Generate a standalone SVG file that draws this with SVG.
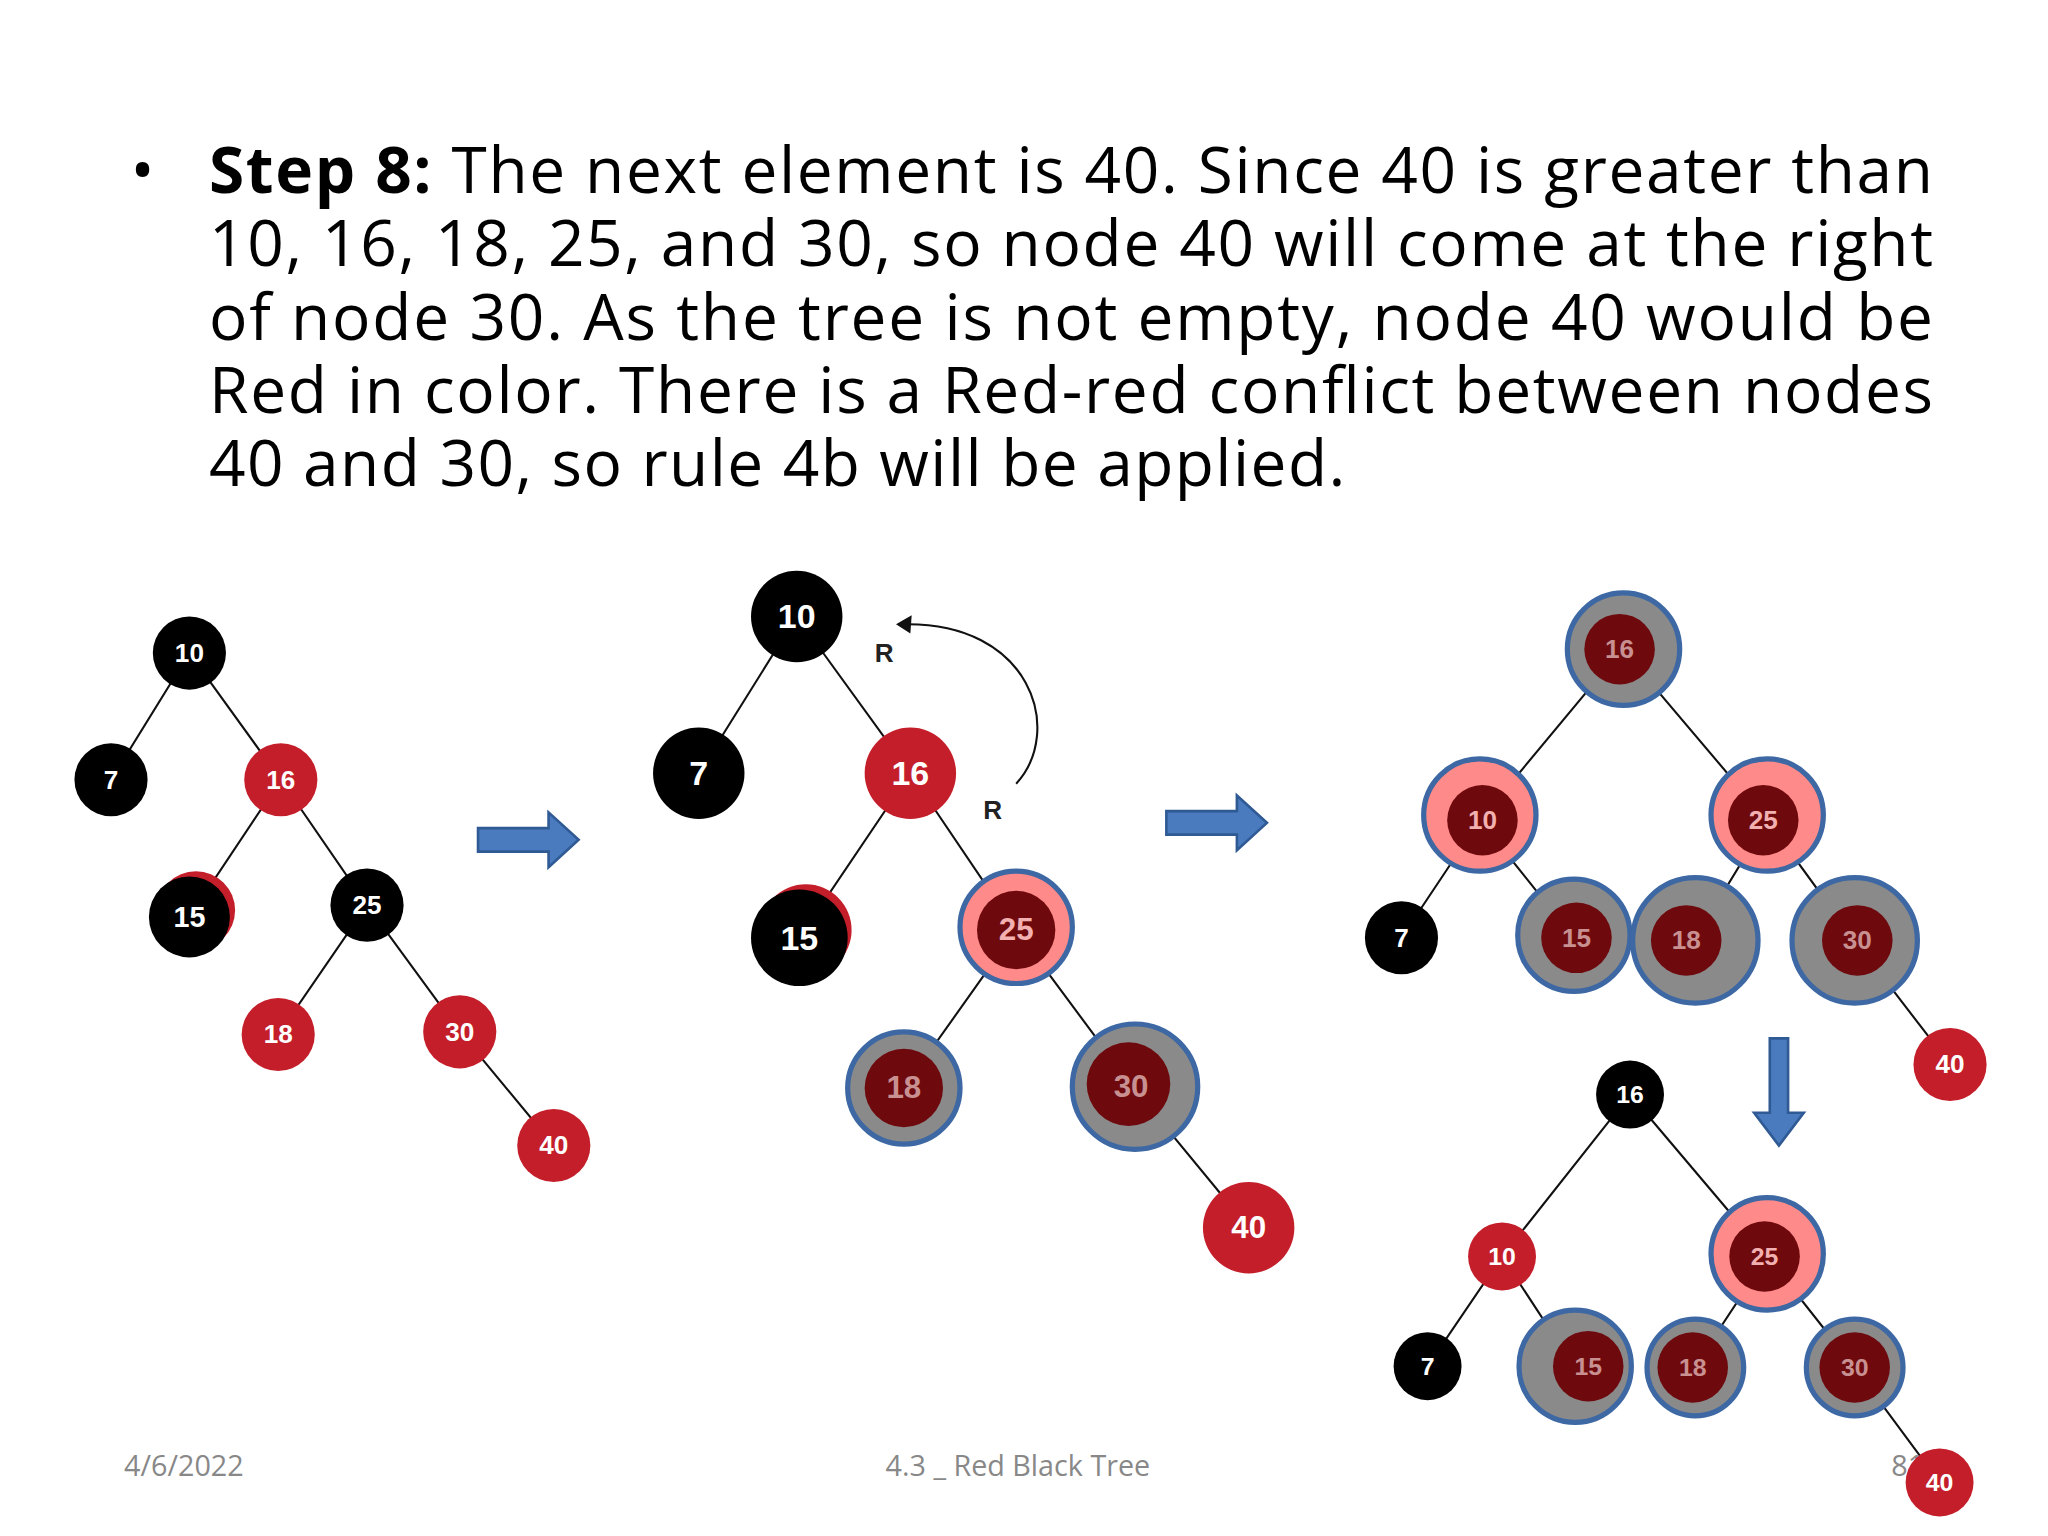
<svg xmlns="http://www.w3.org/2000/svg" width="2048" height="1536" viewBox="0 0 2048 1536">
<style>
.t{font-family:"Open Sans","Liberation Sans",sans-serif;font-size:49px;fill:#000}
.n{font-family:"Liberation Sans",Arial,sans-serif;font-weight:bold;fill:#fff;text-anchor:middle;dominant-baseline:central}
.f{font-family:"Open Sans","Liberation Sans",sans-serif;font-size:22px;fill:#888}
.e{stroke:#111;stroke-width:1.6;fill:none}
.b{fill:#000}.r{fill:#c41e2a}.dr{fill:#6e0a0e}
.g{fill:#8a8a8a;stroke:#3d68a3;stroke-width:4}
.p{fill:#ff8a8a;stroke:#3d68a3;stroke-width:4}
.ar{fill:#4a7bbf;stroke:#2f5a94;stroke-width:2}
</style>
<rect width="2048" height="1536" fill="#fff"/>
<g transform="scale(1.30612)">
<g id="text">
<text class="t" x="100" y="148">•</text>
<text class="t" x="160" y="148" textLength="1320" lengthAdjust="spacing"><tspan font-weight="bold">Step 8:</tspan> The next element is 40. Since 40 is greater than</text>
<text class="t" x="160" y="204" textLength="1320" lengthAdjust="spacing">10, 16, 18, 25, and 30, so node 40 will come at the right</text>
<text class="t" x="160" y="260" textLength="1320" lengthAdjust="spacing">of node 30. As the tree is not empty, node 40 would be</text>
<text class="t" x="160" y="316" textLength="1320" lengthAdjust="spacing">Red in color. There is a Red-red conflict between nodes</text>
<text class="t" x="160" y="372" textLength="870" lengthAdjust="spacing">40 and 30, so rule 4b will be applied.</text>
</g>
<g id="connectors">
<path class="e" d="M145 500L85 597M145 500L215 597M215 597L145 702M215 597L281 693M281 693L213 792M281 693L352 790M352 790L424 877"/>
<path class="e" d="M610 472L535 592M610 472L697 592M697 592L612 718M697 592L778 712M778 712L692 833M778 712L867 832M867 832L956 940"/>
<path class="e" d="M1242 497L1133 628M1242 497L1353 628M1133 628L1073 718M1133 628L1205 718M1353 628L1297 720M1353 628L1420 720M1420 720L1493 815"/>
<path class="e" d="M1248 838L1150 962M1248 838L1353 962M1150 962L1093 1046M1150 962L1205 1046M1353 962L1297 1047M1353 962L1420 1047M1420 1047L1485 1135"/>
<path class="e" d="M778 600C815 560 790 475 690 478"/>
<path d="M686 478L698 471L697 485Z" fill="#111"/>
<path class="ar" d="M366 634H420V622L443 643L420 664V652H366Z"/>
<path class="ar" d="M893 621H947V609L970 630L947 651V639H893Z"/>
<path class="ar" d="M1355 795H1369V852H1381L1362 877L1343 852H1355Z"/>
</g>
<g id="labels">
<text class="n" x="677" y="500" style="fill:#222" font-size="20">R</text>
<text class="n" x="760" y="620" style="fill:#222" font-size="20">R</text>
</g>
<g id="tree1">
<circle class="b" cx="145" cy="500" r="28"/><text class="n" x="145" y="500" font-size="20">10</text>
<circle class="b" cx="85" cy="597" r="28"/><text class="n" x="85" y="597" font-size="20">7</text>
<circle class="r" cx="215" cy="597" r="28"/><text class="n" x="215" y="597" font-size="20">16</text>
<circle class="r" cx="150" cy="697" r="30"/><circle class="b" cx="145" cy="702" r="31"/><text class="n" x="145" y="702" font-size="22">15</text>
<circle class="b" cx="281" cy="693" r="28"/><text class="n" x="281" y="693" font-size="20">25</text>
<circle class="r" cx="213" cy="792" r="28"/><text class="n" x="213" y="792" font-size="20">18</text>
<circle class="r" cx="352" cy="790" r="28"/><text class="n" x="352" y="790" font-size="20">30</text>
<circle class="r" cx="424" cy="877" r="28"/><text class="n" x="424" y="877" font-size="20">40</text>
</g>
<g id="tree2">
<circle class="b" cx="610" cy="472" r="35"/><text class="n" x="610" y="472" font-size="26">10</text>
<circle class="b" cx="535" cy="592" r="35"/><text class="n" x="535" y="592" font-size="26">7</text>
<circle class="r" cx="697" cy="592" r="35"/><text class="n" x="697" y="592" font-size="26">16</text>
<circle class="r" cx="617" cy="712" r="35"/><circle class="b" cx="612" cy="718" r="37"/><text class="n" x="612" y="718" font-size="26">15</text>
<circle class="p" cx="778" cy="710" r="43"/><circle class="dr" cx="778" cy="712" r="30"/><text class="n" x="778" y="712" font-size="24" style="fill:#f2b0b0">25</text>
<circle class="g" cx="692" cy="833" r="43"/><circle class="dr" cx="692" cy="833" r="30"/><text class="n" x="692" y="833" font-size="24" style="fill:#c89090">18</text>
<circle class="g" cx="869" cy="832" r="48"/><circle class="dr" cx="864" cy="830" r="32"/><text class="n" x="866" y="832" font-size="24" style="fill:#c89090">30</text>
<circle class="r" cx="956" cy="940" r="35"/><text class="n" x="956" y="940" font-size="24">40</text>
</g>
<g id="tree3">
<circle class="g" cx="1243" cy="497" r="43"/><circle class="dr" cx="1240" cy="497" r="27"/><text class="n" x="1240" y="497" font-size="20" style="fill:#c89090">16</text>
<circle class="p" cx="1133" cy="624" r="43"/><circle class="dr" cx="1135" cy="628" r="27"/><text class="n" x="1135" y="628" font-size="20" style="fill:#f2b0b0">10</text>
<circle class="p" cx="1353" cy="624" r="43"/><circle class="dr" cx="1350" cy="628" r="27"/><text class="n" x="1350" y="628" font-size="20" style="fill:#f2b0b0">25</text>
<circle class="b" cx="1073" cy="718" r="28"/><text class="n" x="1073" y="718" font-size="20">7</text>
<circle class="g" cx="1205" cy="716" r="43"/><circle class="dr" cx="1207" cy="718" r="27"/><text class="n" x="1207" y="718" font-size="20" style="fill:#c89090">15</text>
<circle class="g" cx="1298" cy="720" r="48"/><circle class="dr" cx="1291" cy="720" r="27"/><text class="n" x="1291" y="720" font-size="20" style="fill:#c89090">18</text>
<circle class="g" cx="1420" cy="720" r="48"/><circle class="dr" cx="1422" cy="720" r="27"/><text class="n" x="1422" y="720" font-size="20" style="fill:#c89090">30</text>
<circle class="r" cx="1493" cy="815" r="28"/><text class="n" x="1493" y="815" font-size="20">40</text>
</g>
<g id="footer">
<text class="f" x="95" y="1130">4/6/2022</text>
<text class="f" x="678" y="1130">4.3 _ Red Black Tree</text>
<text class="f" x="1448" y="1130">81</text>
</g>
<g id="tree4">
<circle class="b" cx="1248" cy="838" r="26"/><text class="n" x="1248" y="838" font-size="19">16</text>
<circle class="r" cx="1150" cy="962" r="26"/><text class="n" x="1150" y="962" font-size="19">10</text>
<circle class="p" cx="1353" cy="960" r="43"/><circle class="dr" cx="1351" cy="962" r="27"/><text class="n" x="1351" y="962" font-size="19" style="fill:#f2b0b0">25</text>
<circle class="b" cx="1093" cy="1046" r="26"/><text class="n" x="1093" y="1046" font-size="19">7</text>
<circle class="g" cx="1206" cy="1046" r="43"/><circle class="dr" cx="1216" cy="1046" r="27"/><text class="n" x="1216" y="1046" font-size="19" style="fill:#c89090">15</text>
<circle class="g" cx="1298" cy="1047" r="37"/><circle class="dr" cx="1296" cy="1047" r="27"/><text class="n" x="1296" y="1047" font-size="19" style="fill:#c89090">18</text>
<circle class="g" cx="1420" cy="1047" r="37"/><circle class="dr" cx="1420" cy="1047" r="27"/><text class="n" x="1420" y="1047" font-size="19" style="fill:#c89090">30</text>
<circle class="r" cx="1485" cy="1135" r="26"/><text class="n" x="1485" y="1135" font-size="19">40</text>
</g>
</g>
</svg>
